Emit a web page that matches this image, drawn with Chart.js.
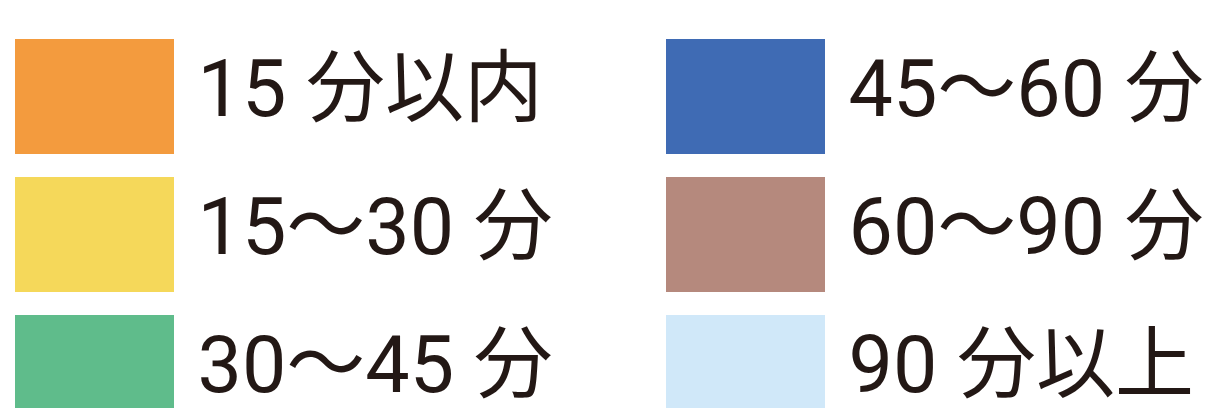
<!DOCTYPE html>
<html lang="ja">
<head>
<meta charset="utf-8">
<title>所要時間 凡例</title>
<script src="https://cdn.jsdelivr.net/npm/chart.js@4"></script>
<style>
  html, body { margin: 0; padding: 0; background: #ffffff; overflow: hidden; }
  #legendChart { display: block; }
</style>
</head>
<body>
<canvas id="legendChart" width="1206" height="520"></canvas>
<script>
// categories shown in the legend (column by column)
var categories = ['15 分以内', '15～30 分', '30～45 分', '45～60 分', '60～90 分', '90 分以上'];
var categoryColors = ['#F39B3E', '#F5D85A', '#5FBC8B', '#3F6BB4', '#B5897D', '#D0E8F9'];
// the picture only shows the key, there are no values to plot
var categoryValues = [[], [], [], [], [], []];

var textColor = '#231815';
var boxBorder = 32;        // same colour as the fill, makes the box look bigger than boxWidth
var firstColumnWidth = 596;

// push the second column of the legend to the right and let the legend
// use the full canvas width (it clips to its own box)
var legendColumns = {
    id: 'legendColumns',
    afterLayout: function (chart) {
        var legend = chart.legend;
        if (!legend) return;
        var cols = legend.columnSizes;
        if (cols && cols.length > 1) {
            cols[0].width = firstColumnWidth;
        }
        legend.right = chart.width;
        legend.width = legend.right - legend.left;
    }
};

document.addEventListener('DOMContentLoaded', function () {
    var ctx = document.getElementById('legendChart').getContext('2d');

    var datasets = categories.map(function (label, i) {
        return {
            label: label,
            data: categoryValues[i],
            backgroundColor: categoryColors[i],
            borderColor: categoryColors[i]
        };
    });

    new Chart(ctx, {
        type: 'bar',
        data: { labels: [], datasets: datasets },
        options: {
            responsive: false,
            devicePixelRatio: 1,
            animation: false,
            layout: { padding: { left: -24, top: 0, right: 0, bottom: 0 } },
            scales: {
                x: { display: false },
                y: { display: false }
            },
            plugins: {
                tooltip: { enabled: false },
                legend: {
                    position: 'left',
                    align: 'start',
                    maxWidth: 1300,
                    labels: {
                        boxWidth: 127,
                        boxHeight: 83,
                        padding: 55,
                        color: textColor,
                        font: { family: "Roboto, 'Noto Sans CJK JP', sans-serif", size: 79, weight: 'normal' },
                        generateLabels: function (chart) {
                            return chart.data.datasets.map(function (ds, i) {
                                return {
                                    text: ds.label,
                                    fillStyle: ds.backgroundColor,
                                    strokeStyle: ds.borderColor,
                                    lineWidth: boxBorder,
                                    lineJoin: 'miter',
                                    fontColor: textColor,
                                    hidden: false,
                                    datasetIndex: i
                                };
                            });
                        }
                    }
                }
            }
        },
        plugins: [legendColumns]
    });
});
</script>
</body>
</html>
